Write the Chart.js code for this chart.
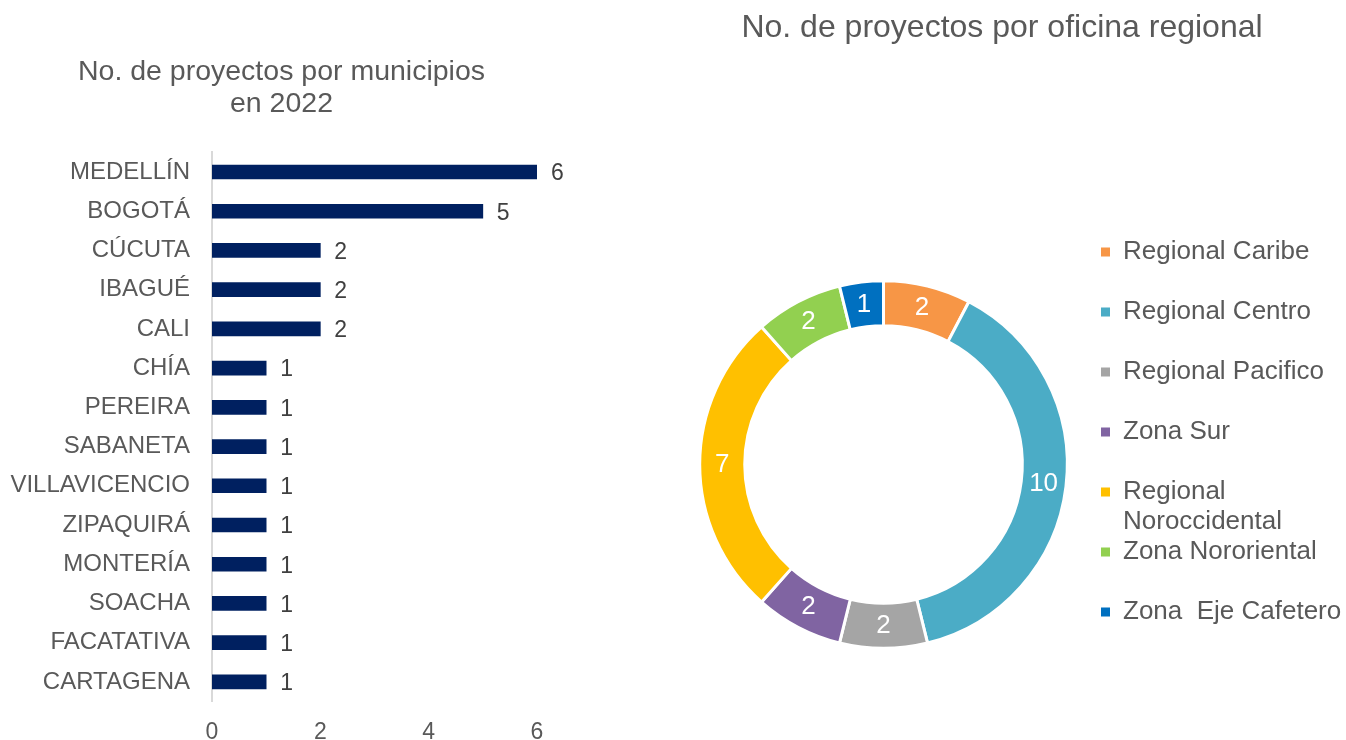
<!DOCTYPE html>
<html lang="es">
<head>
<meta charset="utf-8">
<title>Proyectos por municipio y oficina regional</title>
<script src="https://cdn.jsdelivr.net/npm/chart.js@4/dist/chart.umd.min.js"></script>
<style>
  html, body { margin: 0; padding: 0; background: #fff; overflow: hidden; }
  #municipios { position: absolute; left: 0; top: 0; }
  #regional { position: absolute; left: 600px; top: 0; }
</style>
</head>
<body>
<canvas id="municipios" width="570" height="740"></canvas>
<canvas id="regional" width="750" height="740"></canvas>
<script>
// municipios (bar chart, top to bottom)
const municipios = ["MEDELLÍN", "BOGOTÁ", "CÚCUTA", "IBAGUÉ", "CALI", "CHÍA", "PEREIRA", "SABANETA",
  "VILLAVICENCIO", "ZIPAQUIRÁ", "MONTERÍA", "SOACHA", "FACATATIVA", "CARTAGENA"];
const proyectosMunicipio = [6, 5, 2, 2, 2, 1, 1, 1, 1, 1, 1, 1, 1, 1];
const ticksMunicipio = [0, 2, 4, 6];

// oficinas regionales (doughnut, clockwise from the top)
const regiones = ["Regional Caribe", "Regional Centro", "Regional Pacifico", "Zona Sur",
  "Regional Noroccidental", "Zona Nororiental", "Zona  Eje Cafetero"];
const proyectosRegion = [2, 10, 2, 2, 7, 2, 1];
const coloresRegion = ["#F79646", "#4BACC6", "#A5A5A5", "#8064A2", "#FFC000", "#92D050", "#0070C0"];

const FONT = "'Liberation Sans', Arial, sans-serif";
Chart.defaults.font.family = FONT;
Chart.defaults.color = "#595959";

// empty axis that only reserves room, so the title can be centred apart from the plot
function spacer(position, size) {
  return {
    type: "linear",
    position: position,
    grid: { display: false, drawTicks: false },
    border: { display: false },
    ticks: { display: false },
    afterFit: (scale) => { scale.width = size; }
  };
}

// value labels next to each bar
const barValueLabels = {
  id: "barValueLabels",
  afterDatasetsDraw(chart) {
    const { ctx } = chart;
    const meta = chart.getDatasetMeta(0);
    ctx.save();
    ctx.font = "23px " + FONT;
    ctx.fillStyle = "#404040";
    ctx.textAlign = "left";
    ctx.textBaseline = "middle";
    meta.data.forEach((bar, i) => {
      ctx.fillText(String(proyectosMunicipio[i]), bar.x + 14, bar.y + 2);
    });
    ctx.restore();
  }
};

// white value labels inside each ring segment
const arcValueLabels = {
  id: "arcValueLabels",
  afterDatasetsDraw(chart) {
    const { ctx } = chart;
    const meta = chart.getDatasetMeta(0);
    ctx.save();
    ctx.font = "26px " + FONT;
    ctx.fillStyle = "#ffffff";
    ctx.textAlign = "center";
    ctx.textBaseline = "middle";
    meta.data.forEach((arc, i) => {
      const p = arc.tooltipPosition();
      ctx.fillText(String(proyectosRegion[i]), p.x, p.y);
    });
    ctx.restore();
  }
};

new Chart(document.getElementById("municipios"), {
  type: "bar",
  data: {
    labels: municipios,
    datasets: [{
      data: proyectosMunicipio,
      xAxisID: "x",
      yAxisID: "y",
      backgroundColor: "#002060",
      barThickness: 14
    }]
  },
  options: {
    indexAxis: "y",
    responsive: false,
    animation: false,
    devicePixelRatio: 1,
    layout: { padding: { left: 0, right: 7, top: 0, bottom: 0 } },
    plugins: {
      legend: { display: false },
      tooltip: { enabled: false },
      title: {
        display: true,
        text: ["No. de proyectos por municipios", "en 2022"],
        color: "#595959",
        font: { size: 28.5, weight: "normal", lineHeight: 32 / 28.5 },
        padding: { top: 56, bottom: 32.4 }
      }
    },
    scales: {
      x: {
        min: 0,
        max: 6,
        afterBuildTicks: (scale) => { scale.ticks = ticksMunicipio.map((v) => ({ value: v })); },
        afterFit: (scale) => { scale.height = 38.5; },
        grid: { display: false, drawTicks: false },
        border: { display: false },
        ticks: { padding: 17, color: "#595959", font: { size: 23 } }
      },
      y: {
        afterFit: (scale) => { scale.width = 212; },
        grid: { display: false, drawTicks: false },
        border: { display: true, color: "#D9D9D9", width: 2 },
        ticks: { padding: 22, color: "#595959", font: { size: 24 } }
      },
      rightRoom: spacer("right", 26)
    }
  },
  plugins: [barValueLabels]
});

// legend text: long names wrap to two lines, every item takes a two-line slot
function legendText(name, i) {
  if (i === regiones.length - 1) return name;
  if (name.length > 20) {
    const k = name.indexOf(" ");
    return [name.slice(0, k), name.slice(k + 1)];
  }
  return [name, ""];
}

new Chart(document.getElementById("regional"), {
  type: "doughnut",
  data: {
    labels: regiones,
    datasets: [{
      data: proyectosRegion,
      backgroundColor: coloresRegion,
      borderColor: "#ffffff",
      borderWidth: 3
    }]
  },
  options: {
    responsive: false,
    animation: false,
    devicePixelRatio: 1,
    cutout: "75.5%",
    layout: { padding: { left: 55, right: 1, top: 0, bottom: 90.2 } },
    scales: {
      leftRoom: spacer("left", 11)
    },
    plugins: {
      tooltip: { enabled: false },
      title: {
        display: true,
        text: "No. de proyectos por oficina regional",
        color: "#595959",
        font: { size: 32, weight: "normal", lineHeight: 1.2 },
        padding: { top: 8.8, bottom: 232 }
      },
      legend: {
        display: true,
        position: "right",
        align: "start",
        fullSize: true,
        maxWidth: 248,
        title: { display: true, text: "", font: { size: 1, lineHeight: 1 }, padding: { top: 238, bottom: 0 } },
        labels: {
          boxWidth: 9,
          boxHeight: 9,
          padding: 0,
          color: "#595959",
          font: { size: 26, lineHeight: 30 / 26 },
          generateLabels: () => regiones.map((name, i) => ({
            text: legendText(name, i),
            fillStyle: coloresRegion[i],
            strokeStyle: coloresRegion[i],
            lineWidth: 0,
            fontColor: "#595959",
            hidden: false,
            index: i
          }))
        }
      }
    }
  },
  plugins: [arcValueLabels]
});
</script>
</body>
</html>
